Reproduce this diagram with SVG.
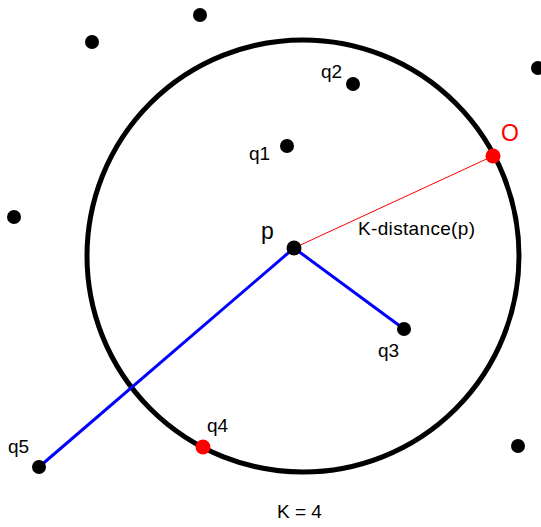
<svg xmlns="http://www.w3.org/2000/svg" width="541" height="527" viewBox="0 0 541 527">
<style>
.pt{fill:#000}
.red{fill:#ff0000}
text{font-family:"Liberation Sans",Arial,sans-serif;font-size:19px;fill:#000}
.big{font-size:23px}
</style>
<rect width="541" height="527" fill="#fff"/>
<circle cx="303" cy="256" r="216" fill="none" stroke="#000" stroke-width="5"/>
<g id="connectors">
<line x1="294" y1="248" x2="493" y2="156" stroke="#ff0000" stroke-width="1"/>
<line x1="294" y1="248" x2="39" y2="467" stroke="#0000ff" stroke-width="3"/>
<line x1="294" y1="248" x2="404" y2="329" stroke="#0000ff" stroke-width="3"/>
</g>
<g id="n1"><circle class="pt" cx="200" cy="15" r="7"/></g>
<g id="n2"><circle class="pt" cx="92" cy="42" r="7"/></g>
<g id="n3"><circle class="pt" cx="14" cy="217" r="7"/></g>
<g id="n4"><circle class="pt" cx="538" cy="68" r="7"/></g>
<g id="n5"><circle class="pt" cx="518" cy="446" r="7"/></g>
<g id="q2"><circle class="pt" cx="353" cy="84" r="7"/><text x="321" y="78">q2</text></g>
<g id="q1"><circle class="pt" cx="287" cy="146" r="7"/><text x="249" y="160">q1</text></g>
<g id="O"><circle class="red" cx="493" cy="156" r="7.5"/><text class="big" x="501" y="141" style="fill:#ff0000">O</text></g>
<g id="p"><circle class="pt" cx="294" cy="248" r="7.5"/><text class="big" x="261" y="239">p</text></g>
<g id="q3"><circle class="pt" cx="404" cy="329" r="7"/><text x="378" y="357">q3</text></g>
<g id="q4"><circle class="red" cx="203" cy="447" r="7.5"/><text x="207" y="432">q4</text></g>
<g id="q5"><circle class="pt" cx="39" cy="467" r="7"/><text x="8" y="453">q5</text></g>
<text x="358" y="235" textLength="117">K-distance(p)</text>
<text x="277" y="518">K = 4</text>
</svg>
